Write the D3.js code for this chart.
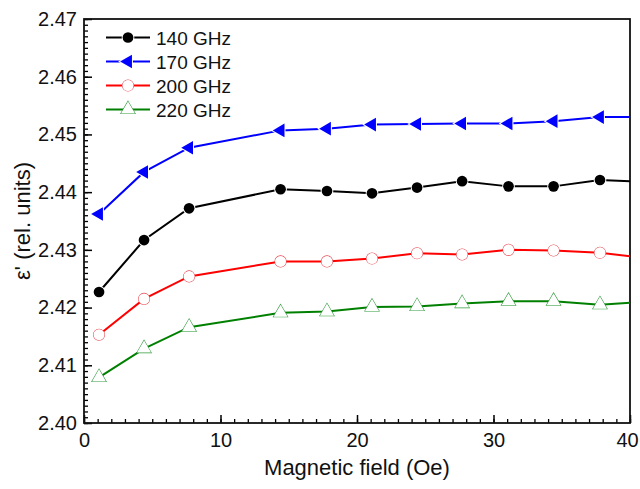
<!DOCTYPE html>
<html>
<head>
<meta charset="utf-8">
<script src="https://cdn.jsdelivr.net/npm/d3@7"></script>
<style>
  html, body { margin: 0; padding: 0; background: #fff; }
  svg { display: block; font-family: Arial, "Liberation Sans", sans-serif; }
</style>
</head>
<body>
<svg id="chart" width="640" height="489"></svg>
<script>
// ---- data ----
const fieldOe = [1.1, 4.4, 7.7, 14.4, 17.8, 21.1, 24.4, 27.7, 31.1, 34.4, 37.8, 41.1];
const eps140 = [2.4227, 2.4317, 2.4372, 2.4405, 2.4402, 2.4398, 2.4408, 2.4419, 2.4410, 2.4410, 2.4421, 2.4418];
const eps170 = [2.4362, 2.4435, 2.4477, 2.4507, 2.4510, 2.4517, 2.4518, 2.4519, 2.4519, 2.4523, 2.4530, 2.4530];
const eps200 = [2.4153, 2.4215, 2.4254, 2.4280, 2.4280, 2.4285, 2.4294, 2.4292, 2.4300, 2.4299, 2.4295, 2.4286];
const eps220 = [2.4079, 2.4129, 2.4166, 2.4191, 2.4193, 2.4201, 2.4202, 2.4207, 2.4211, 2.4211, 2.4205, 2.4210];
const seriesNames = ["140 GHz", "170 GHz", "200 GHz", "220 GHz"];
const xTicks = [0, 10, 20, 30, 40];
const yTicks = [2.40, 2.41, 2.42, 2.43, 2.44, 2.45, 2.46, 2.47];
const xLabel = "Magnetic field (Oe)";
const yLabel = "ε' (rel. units)";

// ---- styles ----
const styles = [
  { line: "#000000", stroke: "#000000", fill: "#000000", shape: "circle", rotate: 0, size: 90 },
  { line: "#0000ff", stroke: "#0000ff", fill: "#0000ff", shape: "triangle", rotate: -90, size: 80 },
  { line: "#ff0000", stroke: "#e8454f", fill: "#ffffff", shape: "circle", rotate: 0, size: 95 },
  { line: "#008000", stroke: "#2f9a3a", fill: "#ffffff", shape: "triangle", rotate: 0, size: 85 }
];
const seriesVals = [eps140, eps170, eps200, eps220];

const svg = d3.select("#chart");
const L = 84, R = 630, T = 19, B = 423;
const x = d3.scaleLinear().domain([0, 40]).range([L, R]);
const y = d3.scaleLinear().domain([2.40, 2.47]).range([B, T]);

svg.append("defs").append("clipPath").attr("id", "clip")
  .append("rect").attr("x", L).attr("y", T).attr("width", R - L).attr("height", B - T);

// minor ticks
svg.append("g").attr("transform", `translate(0,${B})`)
  .call(d3.axisBottom(x).tickValues(d3.range(0, 41, 1)).tickSize(-4).tickFormat(""))
  .call(g => g.select(".domain").remove())
  .call(g => g.selectAll("line").attr("stroke", "#000").attr("stroke-width", 1.3));
svg.append("g").attr("transform", `translate(${L},0)`)
  .call(d3.axisLeft(y).tickValues(d3.range(0, 71, 1).map(i => 2.40 + i * 0.001)).tickSize(-4).tickFormat(""))
  .call(g => g.select(".domain").remove())
  .call(g => g.selectAll("line").attr("stroke", "#000").attr("stroke-width", 1.3));

// major ticks + labels
svg.append("g").attr("transform", `translate(0,${B})`)
  .call(d3.axisBottom(x).tickValues(xTicks).tickSize(-8).tickPadding(10).tickFormat(d3.format("d")))
  .call(g => g.select(".domain").remove())
  .call(g => g.selectAll("line").attr("stroke", "#000").attr("stroke-width", 1.5))
  .call(g => g.selectAll("text").attr("font-size", 20).attr("fill", "#111").attr("font-family", "Arial, 'Liberation Sans', sans-serif"))
  .call(g => g.selectAll("text").filter(d => d === 40).attr("dx", -3));
svg.append("g").attr("transform", `translate(${L},0)`)
  .call(d3.axisLeft(y).tickValues(yTicks).tickSize(-8).tickPadding(7).tickFormat(d3.format(".2f")))
  .call(g => g.select(".domain").remove())
  .call(g => g.selectAll("line").attr("stroke", "#000").attr("stroke-width", 1.5))
  .call(g => g.selectAll("text").attr("font-size", 20).attr("fill", "#111").attr("font-family", "Arial, 'Liberation Sans', sans-serif"));

// frame
svg.append("rect").attr("x", L).attr("y", T).attr("width", R - L).attr("height", B - T)
  .attr("fill", "none").attr("stroke", "#111").attr("stroke-width", 1.8);

function symbolPath(st) {
  const type = st.shape === "circle" ? d3.symbolCircle : d3.symbolTriangle;
  return d3.symbol().type(type).size(st.size)();
}

// series
const plot = svg.append("g").attr("clip-path", "url(#clip)");
const lineGen = d3.line().x((d, i) => x(fieldOe[i])).y(d => y(d));
seriesVals.forEach((vals, si) => {
  const st = styles[si];
  plot.append("path").datum(vals).attr("d", lineGen)
    .attr("fill", "none").attr("stroke", st.line).attr("stroke-width", 2);
});
seriesVals.forEach((vals, si) => {
  const st = styles[si];
  plot.selectAll(null).data(vals).enter().append("path")
    .attr("d", symbolPath(st))
    .attr("transform", (d, i) => `translate(${x(fieldOe[i])},${y(d)}) rotate(${st.rotate})`)
    .attr("fill", st.fill).attr("stroke", st.fill === "#ffffff" ? st.stroke : "#ffffff")
    .attr("stroke-width", st.fill === "#ffffff" ? 1.1 : 2)
    .attr("paint-order", "stroke");
});

// legend
const leg = svg.append("g");
seriesNames.forEach((name, si) => {
  const st = styles[si];
  const ly = 37.5 + si * 24;
  leg.append("line").attr("x1", 106).attr("x2", 150).attr("y1", ly).attr("y2", ly)
    .attr("stroke", st.line).attr("stroke-width", 2);
  leg.append("path").attr("d", symbolPath(st))
    .attr("transform", `translate(128,${ly}) rotate(${st.rotate})`)
    .attr("fill", st.fill).attr("stroke", st.fill === "#ffffff" ? st.stroke : "#ffffff")
    .attr("stroke-width", st.fill === "#ffffff" ? 1.1 : 2).attr("paint-order", "stroke");
  leg.append("text").attr("x", 156).attr("y", ly + 7).attr("font-size", 19).attr("fill", "#111")
    .text(name);
});

// axis titles
svg.append("text").attr("x", (L + R) / 2).attr("y", 475).attr("text-anchor", "middle")
  .attr("font-size", 22).attr("fill", "#111").text(xLabel);
svg.append("text").attr("transform", `translate(30,${(T + B) / 2}) rotate(-90)`)
  .attr("text-anchor", "middle").attr("font-size", 22).attr("fill", "#111").text(yLabel);
</script>
</body>
</html>
